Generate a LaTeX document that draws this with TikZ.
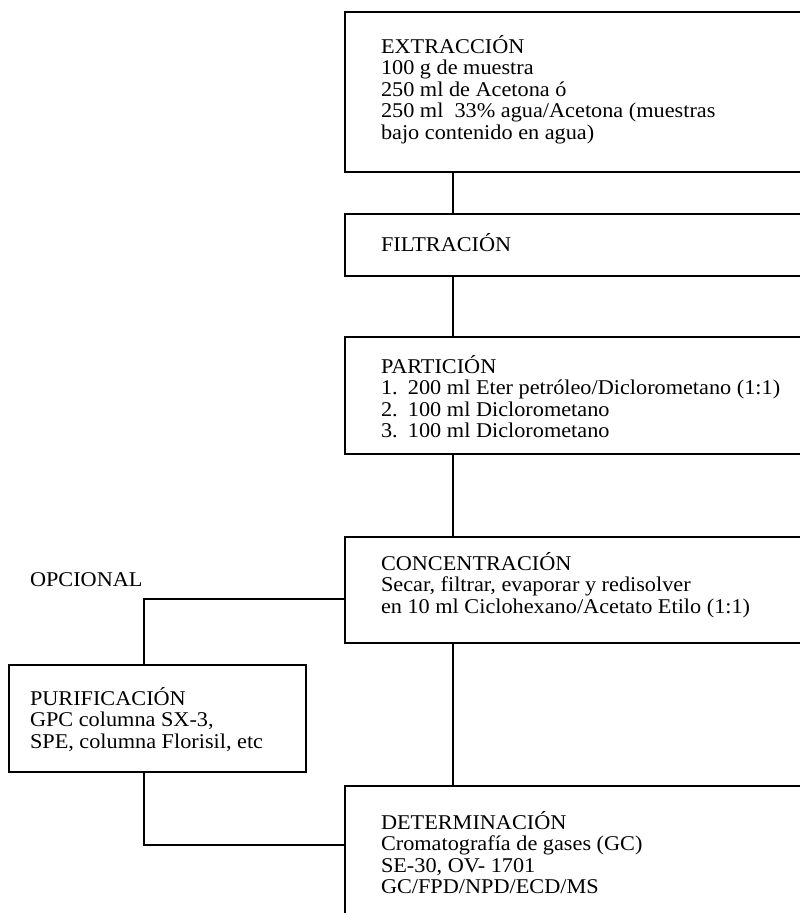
\documentclass[tikz,border=0pt]{standalone}
\usepackage{fontspec}
\setmainfont{Liberation Serif}[FakeStretch=1.06]
\begin{document}
\begin{tikzpicture}[x=1pt,y=-1pt,
  box/.style={draw,line width=2pt,inner sep=0pt,outer sep=0pt,anchor=north west},
  txt/.style={inner sep=0pt,outer sep=0pt,anchor=base west,font=\fontsize{21}{21.6}\selectfont},
  link/.style={line width=2pt}]
\useasboundingbox (0,0) rectangle (800,913);
\clip (0,0) rectangle (800,913);
% boxes
\node[box,minimum width=480pt,minimum height=160pt] (extr) at (345,12) {};
\node[box,minimum width=480pt,minimum height=62pt] (filt) at (345,214) {};
\node[box,minimum width=480pt,minimum height=117pt] (part) at (345,337) {};
\node[box,minimum width=480pt,minimum height=106pt] (conc) at (345,537) {};
\node[box,minimum width=480pt,minimum height=160pt] (det) at (345,786) {};
\node[box,minimum width=297pt,minimum height=107pt] (puri) at (9,665) {};
% texts
\node[txt] (textr) at (381,53) {\begin{tabular}[t]{@{}l@{}}EXTRACCIÓN\\100 g de muestra\\250 ml de Acetona ó\\250 ml\ \ 33\% agua/Acetona (muestras\\bajo contenido en agua)\end{tabular}};
\node[txt] (tfilt) at (381,251) {FILTRACIÓN};
\node[txt] (tpart) at (381,373) {\begin{tabular}[t]{@{}l@{}}PARTICIÓN\\\makebox[27pt][l]{1.}200 ml Eter petróleo/Diclorometano (1:1)\\\makebox[27pt][l]{2.}100 ml Diclorometano\\\makebox[27pt][l]{3.}100 ml Diclorometano\end{tabular}};
\node[txt] (tconc) at (381,570) {\begin{tabular}[t]{@{}l@{}}CONCENTRACIÓN\\Secar, filtrar, evaporar y redisolver\\en 10 ml Ciclohexano/Acetato Etilo (1:1)\end{tabular}};
\node[txt] (tdet) at (381,829) {\begin{tabular}[t]{@{}l@{}}DETERMINACIÓN\\Cromatografía de gases (GC)\\SE-30, OV- 1701\\GC/FPD/NPD/ECD/MS\end{tabular}};
\node[txt] (tpuri) at (30,705) {\begin{tabular}[t]{@{}l@{}}PURIFICACIÓN\\GPC columna SX-3,\\SPE, columna Florisil, etc\end{tabular}};
\node[txt] (topc) at (30,586) {OPCIONAL};
% connectors
\draw[link] ([xshift=108pt]extr.south west) -- ([xshift=108pt]filt.north west);
\draw[link] ([xshift=108pt]filt.south west) -- ([xshift=108pt]part.north west);
\draw[link] ([xshift=108pt]part.south west) -- ([xshift=108pt]conc.north west);
\draw[link] ([xshift=108pt]conc.south west) -- ([xshift=108pt]det.north west);
\draw[link] ([yshift=-9pt]conc.west) -| ([xshift=135pt]puri.north west);
\draw[link] ([xshift=135pt]puri.south west) |- ([yshift=21pt]det.west);
\end{tikzpicture}
\end{document}
